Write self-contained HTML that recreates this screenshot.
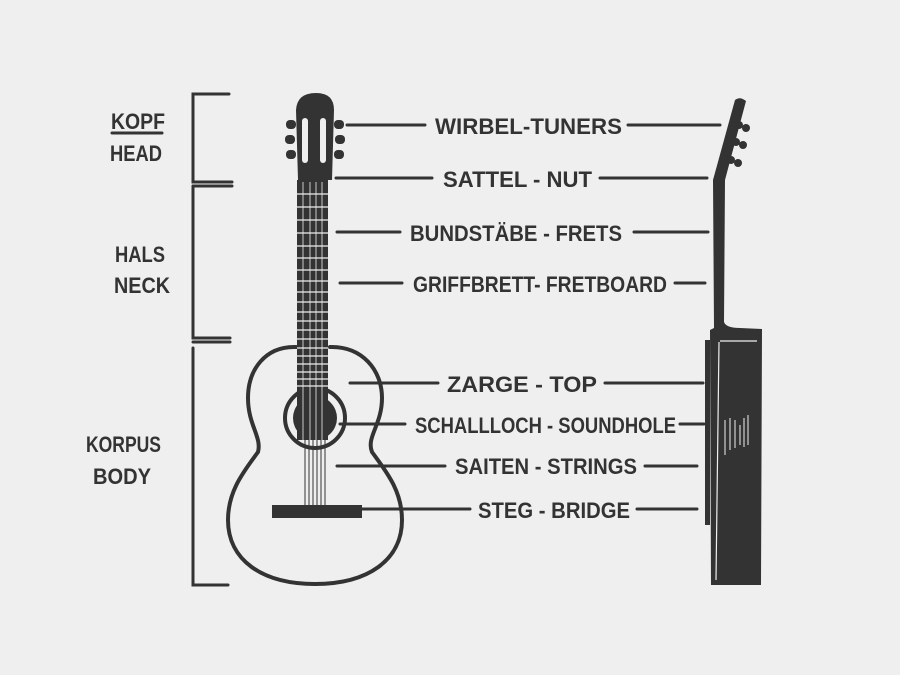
<!DOCTYPE html>
<html><head><meta charset="utf-8"><style>
html,body{margin:0;padding:0;background:#efefef;}
svg{display:block}
text{font-family:"Liberation Sans",sans-serif;fill:#333;font-size:22px;font-weight:bold;}
</style></head><body>
<svg width="900" height="675" viewBox="0 0 900 675">
<rect width="900" height="675" fill="#efefef"/>
<g stroke="#333" stroke-width="3" fill="none" stroke-linecap="round">
<path d="M229 94 H193 V182 H232 M193 186 H232"/>
<path d="M193 186 V338 H230 M193 342 H230"/>
<path d="M193 348 V585 H228"/>
<line x1="112" y1="133" x2="162" y2="133"/>
<path d="M347 125 H425 M628 125 H720"/>
<path d="M336 178 H432 M600 178 H707"/>
<path d="M337 232 H400 M634 232 H708"/>
<path d="M340 283 H402 M675 283 H705"/>
<path d="M350 383 H438 M605 383 H703"/>
<path d="M340 424 H405 M680 424 H704"/>
<path d="M337 466 H445 M645 466 H697"/>
<path d="M350 509 H470 M637 509 H697"/>
<path d="M296 347 C265 346 248 370 248 398 C248 425 262 437 258 452 C245 470 228 490 228 520 C228 560 262 584 315 584 C368 584 402 560 402 520 C402 490 385 470 372 452 C366 437 382 425 382 398 C382 370 362 346 330 347" stroke-width="4"/>
<circle cx="315" cy="418" r="30" stroke-width="4"/>
<path d="M305 180 V510 M309 180 V510 M313 180 V510 M317 180 V510 M321 180 V510 M325 180 V510" stroke-width="1"/>
</g>
<g fill="#333">
<circle cx="315" cy="418" r="22"/>
<rect x="297" y="180" width="31" height="260"/>
<g stroke="#efefef" stroke-width="1.2">
<path d="M297 194H328M297 207H328M297 220H328M297 233H328M297 246H328M297 258H328M297 270H328M297 281H328M297 292H328M297 302H328M297 312H328M297 321H328M297 330H328M297 339H328M297 348H328M297 356H328M297 364H328M297 372H328M297 379H328M297 386H328"/>
<path d="M303 182V440M310 182V440M316 182V440M322 182V440" stroke-width="0.8"/>
</g>
<path d="M298 180 L296 110 Q297 93 316 93 Q334 93 334 110 L332 180 Z"/>
<rect x="302" y="118" width="6" height="45" rx="3" fill="#efefef"/>
<rect x="320" y="118" width="6" height="45" rx="3" fill="#efefef"/>
<rect x="286" y="120" width="10" height="9" rx="4"/><rect x="285" y="135" width="10" height="9" rx="4"/><rect x="286" y="150" width="10" height="9" rx="4"/>
<rect x="334" y="120" width="10" height="9" rx="4"/><rect x="335" y="135" width="10" height="9" rx="4"/><rect x="334" y="150" width="10" height="9" rx="4"/>
<rect x="272" y="505" width="90" height="13"/>
<path d="M713 180 L735 100 Q740 96 746 101 L725 180 L724 322 Q726 328 740 328 L762 329 L761 585 L711 585 L710 330 L714 328 Z"/>
<circle cx="739" cy="125" r="4"/><circle cx="736" cy="142" r="4"/><circle cx="731" cy="160" r="4"/>
<circle cx="746" cy="128" r="4"/><circle cx="743" cy="145" r="4"/><circle cx="738" cy="163" r="4"/>
<rect x="705" y="340" width="5" height="185"/>
</g>
<g stroke="#efefef" stroke-width="1.2">
<line x1="720" y1="341" x2="757" y2="341"/>
<line x1="719" y1="342" x2="716" y2="580"/>
<path d="M725 420V455M730 418V450M735 420V448M740 425V445M744 418V447M748 415V445" stroke-width="1"/>
</g>
<g>
<text x="435" y="134" textLength="187" lengthAdjust="spacingAndGlyphs">WIRBEL-TUNERS</text>
<text x="443" y="187" textLength="149" lengthAdjust="spacingAndGlyphs">SATTEL - NUT</text>
<text x="410" y="241" textLength="212" lengthAdjust="spacingAndGlyphs">BUNDSTÄBE - FRETS</text>
<text x="413" y="292" textLength="254" lengthAdjust="spacingAndGlyphs">GRIFFBRETT- FRETBOARD</text>
<text x="447" y="392" textLength="150" lengthAdjust="spacingAndGlyphs">ZARGE - TOP</text>
<text x="415" y="433" textLength="261" lengthAdjust="spacingAndGlyphs">SCHALLLOCH - SOUNDHOLE</text>
<text x="455" y="474" textLength="182" lengthAdjust="spacingAndGlyphs">SAITEN - STRINGS</text>
<text x="478" y="518" textLength="152" lengthAdjust="spacingAndGlyphs">STEG - BRIDGE</text>
<text x="111" y="129" textLength="54" lengthAdjust="spacingAndGlyphs">KOPF</text>
<text x="110" y="161" textLength="52" lengthAdjust="spacingAndGlyphs">HEAD</text>
<text x="115" y="262" textLength="50" lengthAdjust="spacingAndGlyphs">HALS</text>
<text x="114" y="293" textLength="56" lengthAdjust="spacingAndGlyphs">NECK</text>
<text x="86" y="452" textLength="75" lengthAdjust="spacingAndGlyphs">KORPUS</text>
<text x="93" y="484" textLength="58" lengthAdjust="spacingAndGlyphs">BODY</text>
</g>
</svg>
</body></html>
